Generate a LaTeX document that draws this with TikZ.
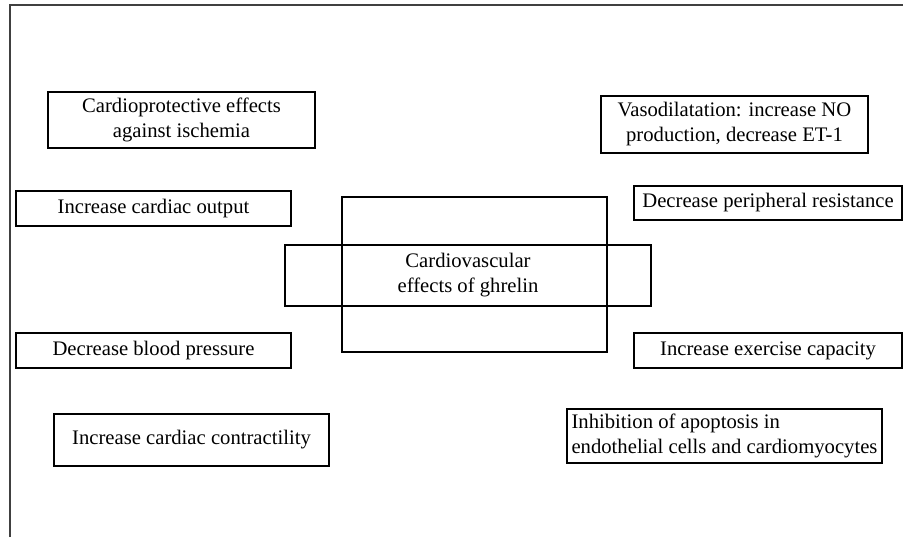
\documentclass[tikz,border=0pt]{standalone}
\usepackage{fontspec}
\setmainfont{Liberation Serif}
\usepackage{tikz}

\begin{document}
\begin{tikzpicture}[x=0.75pt, y=-0.75pt, line width=0.8pt,
    effect/.style={draw, rectangle, align=center, inner sep=1pt, font=\fontsize{15.5}{18.75}\selectfont},
    boxsize/.style 2 args={minimum width=#1*0.75pt, minimum height=#2*0.75pt}]
            \useasboundingbox (0,0) rectangle (903,537);
            % frame
            \coordinate (fbottom) at (10,537);
            \coordinate (fcorner) at (10,5);
            \coordinate (fright) at (903,5);
            \draw[black!75] (fbottom) -- (fcorner) -- (fright);
            % centre
            \node[effect, boxsize={265}{155}] (cross) at (474.5,274.5) {};
            \node[effect, boxsize={366}{61}] (ghrelin) at (468,275.5) {Cardiovascular\\effects of ghrelin};
            % left side
            \node[effect, boxsize={267}{56}] (ischemia) at (181.5,120) {Cardioprotective effects\\against ischemia};
            \node[effect, boxsize={275}{35}] (output) at (153.5,208.5) {Increase cardiac output};
            \node[effect, boxsize={275}{35}] (pressure) at (153.5,350.5) {Decrease blood pressure};
            \node[effect, boxsize={275}{52}] (contract) at (191.5,440) {Increase cardiac contractility};
            % right side
            \node[effect, boxsize={267}{57}] (vaso) at (734.5,124.5) {Vasodilatation: increase NO\\production, decrease ET-1};
            \node[effect, boxsize={268}{34}] (resist) at (768,203) {Decrease peripheral resistance};
            \node[effect, boxsize={268}{35}] (exercise) at (768,350.5) {Increase exercise capacity};
            \node[effect, boxsize={315}{54}, align=left] (apoptosis) at (724.5,436) {Inhibition of apoptosis in\\endothelial cells and cardiomyocytes};
        \end{tikzpicture}
\end{document}
